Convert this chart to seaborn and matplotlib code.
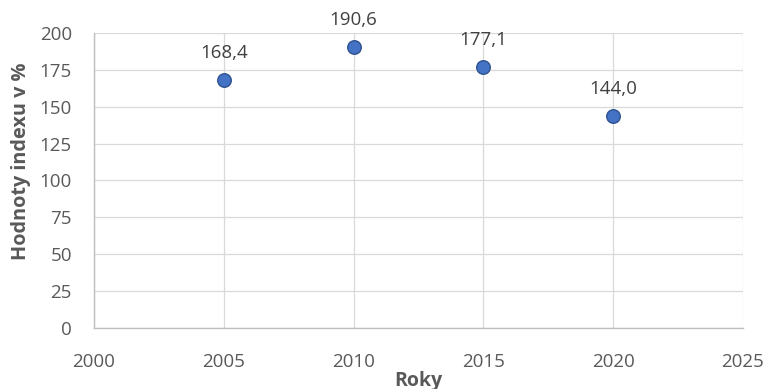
import matplotlib
matplotlib.use("Agg")
import matplotlib.pyplot as plt
import seaborn as sns
import pandas as pd

years = [2005, 2010, 2015, 2020]
values = [168.4, 190.6, 177.1, 144.0]
labels = ["168,4", "190,6", "177,1", "144,0"]
x_ticks = [2000, 2005, 2010, 2015, 2020, 2025]
y_ticks = [0, 25, 50, 75, 100, 125, 150, 175, 200]

sns.set_theme(style="white")
plt.rcParams['font.family'] = ['Open Sans', 'DejaVu Sans']

df = pd.DataFrame({"Roky": years, "Hodnoty": values})

fig = plt.figure(figsize=(7.68, 3.89), dpi=100)
ax = fig.add_axes([0.1224, 0.1568, 0.845, 0.7584])

sns.scatterplot(data=df, x="Roky", y="Hodnoty", ax=ax, s=95,
                color="#4472C4", edgecolor="#2F528F", linewidth=1, zorder=3)

for x, y, t in zip(years, values, labels):
    ax.annotate(t, (x, y), xytext=(0, 13), textcoords="offset points",
                ha="center", va="bottom", fontsize=13.5, color="#404040")

ax.set_xlim(2000, 2025)
ax.set_ylim(0, 200)
ax.set_xticks(x_ticks)
ax.set_yticks(y_ticks)
ax.grid(True, color="#D9D9D9", linewidth=0.9)
ax.set_axisbelow(True)
for side in ["top", "right"]:
    ax.spines[side].set_visible(False)
for side in ["left", "bottom"]:
    ax.spines[side].set_color("#BFBFBF")
    ax.spines[side].set_linewidth(1)
ax.tick_params(axis="y", length=0, labelsize=13.5, labelcolor="#595959", pad=16)
ax.tick_params(axis="x", length=0, labelsize=13.5, labelcolor="#595959", pad=18)
ax.set_xlabel("Roky", fontsize=14, fontweight="bold", color="#595959", va="center")
ax.set_ylabel("Hodnoty indexu v %", fontsize=14.3, fontweight="bold", color="#595959", va="center")
ax.xaxis.set_label_coords(0.5, -0.178)
ax.yaxis.set_label_coords(-0.113, 0.565)

fig.savefig("out.png", dpi=100)
